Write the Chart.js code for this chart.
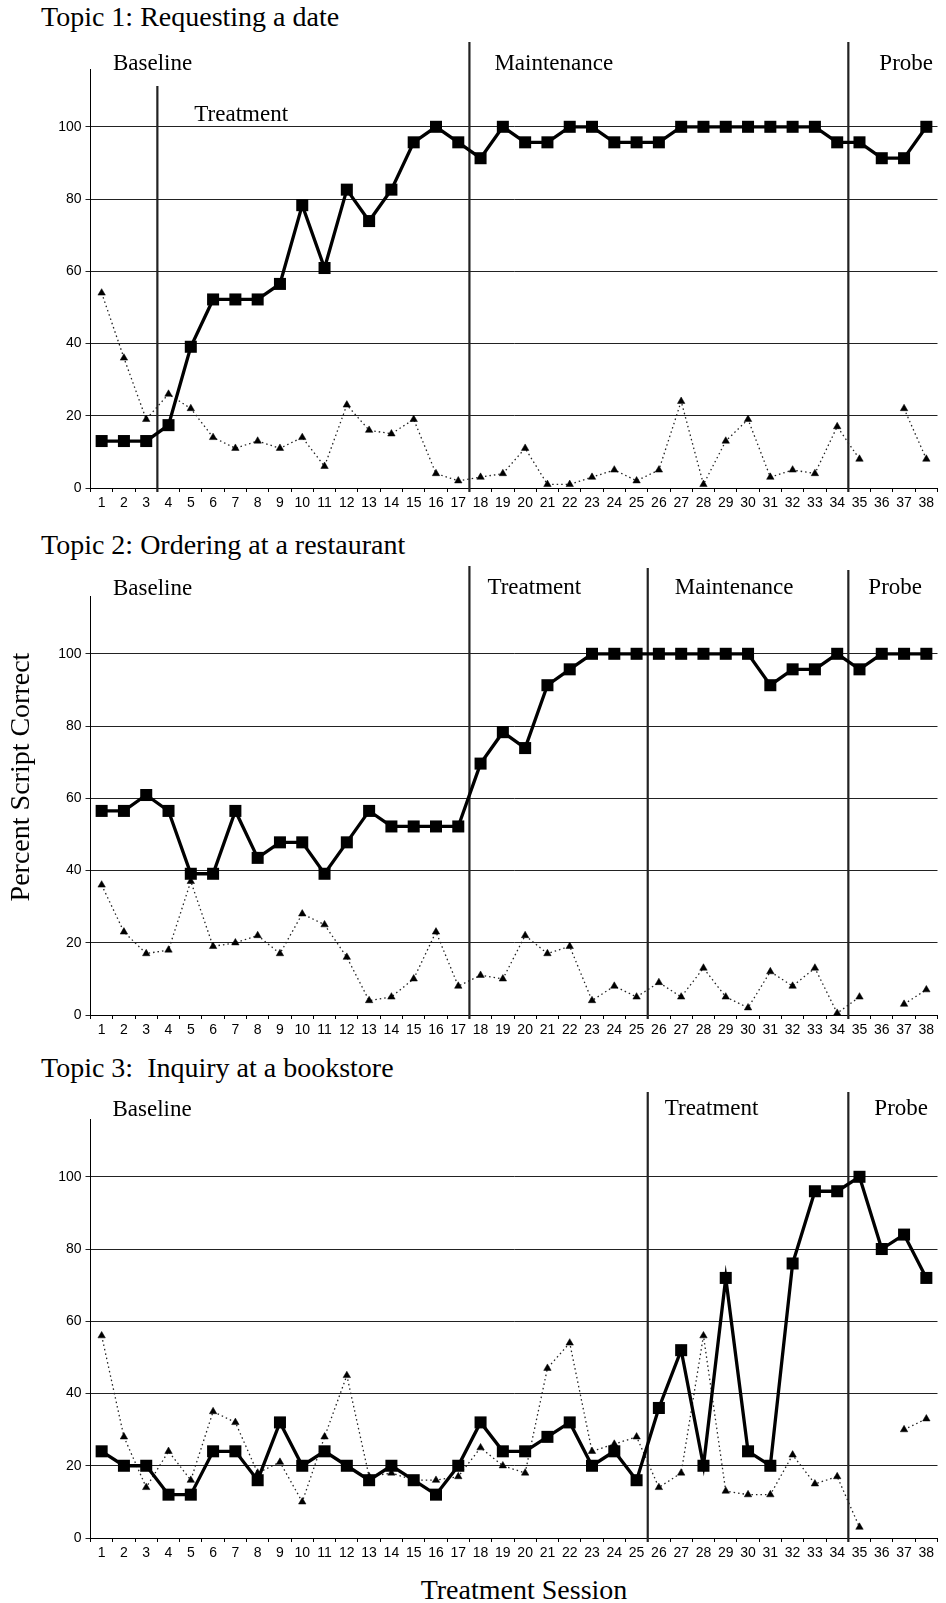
<!DOCTYPE html>
<html>
<head>
<meta charset="utf-8">
<script src="https://cdn.jsdelivr.net/npm/chart.js@4.4.1/dist/chart.umd.min.js"></script>
<style>
  body { margin: 0; background: #fff; }
  #page { position: relative; width: 946px; height: 1603px; overflow: hidden; color: #000;
          font-family: "Liberation Serif", "Times New Roman", serif; }
  .topic { position: absolute; left: 41px; font-size: 28px; line-height: 28px; white-space: pre; }
  .panel { position: absolute; left: 0; }
  #yTitle { position: absolute; width: 400px; left: -180.5px; top: 763px; font-size: 28px; line-height: 28px;
            text-align: center; transform: rotate(-90deg); }
  #xTitle { position: absolute; width: 400px; left: 324px; top: 1576px; font-size: 28px; line-height: 28px;
            text-align: center; }
</style>
</head>
<body>
<div id="page">
  <div class="topic" style="top:3px">Topic 1: Requesting a date</div>
  <div class="topic" style="top:531px">Topic 2: Ordering at a restaurant</div>
  <div class="topic" style="top:1054px">Topic 3:  Inquiry at a bookstore</div>

  <canvas id="topic1" class="panel" width="946" height="485" style="top:35px"></canvas>
  <canvas id="topic2" class="panel" width="946" height="485" style="top:562px"></canvas>
  <canvas id="topic3" class="panel" width="946" height="485" style="top:1085px"></canvas>

  <div id="yTitle">Percent Script Correct</div>
  <div id="xTitle">Treatment Session</div>
</div>

<script>
// sessions on the x axis
const sessions = ['1', '2', '3', '4', '5', '6', '7', '8', '9', '10',
  '11', '12', '13', '14', '15', '16', '17', '18', '19', '20',
  '21', '22', '23', '24', '25', '26', '27', '28', '29', '30',
  '31', '32', '33', '34', '35', '36', '37', '38'];
const yTicks = [0, 20, 40, 60, 80, 100];

// Topic 1: Requesting a date
const topic1Script = [13.0, 13.0, 13.0, 17.4, 39.1, 52.2, 52.2, 52.2, 56.5, 78.3,
  60.9, 82.6, 73.9, 82.6, 95.7, 100, 95.7, 91.3, 100, 95.7,
  95.7, 100, 100, 95.7, 95.7, 95.7, 100, 100, 100, 100,
  100, 100, 100, 95.7, 95.7, 91.3, 91.3, 100];
const topic1Other = [54, 36, 19, 26, 22, 14, 11, 13, 11, 14,
  6, 23, 16, 15, 19, 4, 2, 3, 4, 11,
  1, 1, 3, 5, 2, 5, 24, 1, 13, 19,
  3, 5, 4, 17, 8, null, 22, 8];
const topic1PhaseStarts = [1, 4, 18, 35];
const topic1Phases = ['Baseline', 'Treatment', 'Maintenance', 'Probe'];

// Topic 2: Ordering at a restaurant
const topic2Script = [56.5, 56.5, 60.9, 56.5, 39.1, 39.1, 56.5, 43.5, 47.8, 47.8,
  39.1, 47.8, 56.5, 52.2, 52.2, 52.2, 52.2, 69.6, 78.3, 73.9,
  91.3, 95.7, 100, 100, 100, 100, 100, 100, 100, 100,
  91.3, 95.7, 95.7, 100, 95.7, 100, 100, 100];
const topic2Other = [36, 23, 17, 18, 37, 19, 20, 22, 17, 28,
  25, 16, 4, 5, 10, 23, 8, 11, 10, 22,
  17, 19, 4, 8, 5, 9, 5, 13, 5, 2,
  12, 8, 13, 0.5, 5, null, 3, 7];
const topic2PhaseStarts = [1, 18, 26, 35];
const topic2Phases = ['Baseline', 'Treatment', 'Maintenance', 'Probe'];

// Topic 3: Inquiry at a bookstore
const topic3Script = [24, 20, 20, 12, 12, 24, 24, 16, 32, 20,
  24, 20, 16, 20, 16, 12, 20, 32, 24, 24,
  28, 32, 20, 24, 16, 36, 52, 20, 72, 24,
  20, 76, 96, 96, 100, 80, 84, 72];
const topic3Other = [56, 28, 14, 24, 16, 35, 32, 18, 21, 10,
  28, 45, 17, 18, 16, 16, 17, 25, 20, 18,
  47, 54, 24, 26, 28, 14, 18, 56, 13, 12,
  12, 23, 15, 17, 3, null, 30, 33];
const topic3PhaseStarts = [1, 26, 35];
const topic3Phases = ['Baseline', 'Treatment', 'Probe'];

// where the phase lines start and where the phase names sit (pixels, relative to the plot)
const topic1Look = { lineTop: [0, 17, -27, -27], labelDx: [22.5, 37, 25, 31], labelDy: [1, 52, 1, 1] };
const topic2Look = { lineTop: [0, -30, -28, -26], labelDx: [22.5, 18, 27, 20], labelDy: [-1, -2, -2, -2] };
const topic3Look = { lineTop: [0, -27, -27], labelDx: [22, 17, 26], labelDy: [-3, -4, -4] };

const phasePlugin = {
  id: 'phases',
  beforeDatasetsDraw(chart, args, opts) {
    const ctx = chart.ctx;
    const x = chart.scales.x;
    const area = chart.chartArea;
    ctx.save();
    ctx.strokeStyle = '#222';
    ctx.lineWidth = 2.2;
    opts.starts.forEach((start, i) => {
      if (i === 0) return;
      const px = (x.getPixelForValue(start - 2) + x.getPixelForValue(start - 1)) / 2;
      ctx.beginPath();
      ctx.moveTo(px, area.top + opts.look.lineTop[i]);
      ctx.lineTo(px, area.bottom + 4);
      ctx.stroke();
    });
    ctx.restore();
  },
  afterDatasetsDraw(chart, args, opts) {
    const ctx = chart.ctx;
    const x = chart.scales.x;
    const area = chart.chartArea;
    ctx.save();
    ctx.fillStyle = '#000';
    ctx.font = '23px "Liberation Serif", "Times New Roman", serif';
    ctx.textAlign = 'left';
    ctx.textBaseline = 'alphabetic';
    opts.starts.forEach((start, i) => {
      let px = area.left;
      if (i > 0) {
        px = (x.getPixelForValue(start - 2) + x.getPixelForValue(start - 1)) / 2;
      }
      ctx.fillText(opts.names[i], px + opts.look.labelDx[i], area.top + opts.look.labelDy[i]);
    });
    ctx.restore();
  }
};

function makeChart(canvasId, scriptData, otherData, phaseStarts, phaseNames, look) {
  const ctx = document.getElementById(canvasId);
  return new Chart(ctx, {
    type: 'line',
    data: {
      labels: sessions,
      datasets: [{
        label: 'Percent script correct',
        data: scriptData,
        borderColor: '#000',
        borderWidth: 3.3,
        pointStyle: 'rect',
        pointRadius: 8.5,
        pointBackgroundColor: '#000',
        pointBorderColor: '#000',
        pointBorderWidth: 0,
        tension: 0
      }, {
        label: 'Second measure',
        data: otherData,
        borderColor: '#222',
        borderWidth: 1.3,
        borderDash: [1.5, 3],
        pointStyle: 'triangle',
        pointRadius: 4.3,
        pointBackgroundColor: '#000',
        pointBorderColor: '#000',
        pointBorderWidth: 0.5,
        spanGaps: false,
        tension: 0
      }]
    },
    options: {
      responsive: false,
      animation: false,
      layout: { padding: { top: 34, right: 1, bottom: 0, left: 0 } },
      plugins: {
        legend: { display: false },
        tooltip: { enabled: false },
        phases: { starts: phaseStarts, names: phaseNames, look: look }
      },
      scales: {
        x: {
          type: 'category',
          offset: true,
          grid: { offset: true, drawOnChartArea: false, drawTicks: true, tickLength: 4, color: '#000' },
          border: { color: '#000', width: 1 },
          ticks: {
            color: '#000',
            font: { family: '"Liberation Sans", Arial, sans-serif', size: 14 },
            maxRotation: 0,
            autoSkip: false,
            padding: 3
          },
          afterFit: (scale) => { scale.height = 32; }
        },
        y: {
          min: 0,
          max: 116,
          afterBuildTicks: (scale) => { scale.ticks = yTicks.map(v => ({ value: v })); },
          grid: { color: '#222', lineWidth: 1, tickLength: 5 },
          border: { color: '#000', width: 1 },
          ticks: {
            color: '#000',
            font: { family: '"Liberation Sans", Arial, sans-serif', size: 14 },
            padding: 4
          },
          afterFit: (scale) => { scale.width = 90.5; }
        }
      }
    },
    plugins: [phasePlugin]
  });
}

makeChart('topic1', topic1Script, topic1Other, topic1PhaseStarts, topic1Phases, topic1Look);
makeChart('topic2', topic2Script, topic2Other, topic2PhaseStarts, topic2Phases, topic2Look);
makeChart('topic3', topic3Script, topic3Other, topic3PhaseStarts, topic3Phases, topic3Look);
</script>
</body>
</html>
